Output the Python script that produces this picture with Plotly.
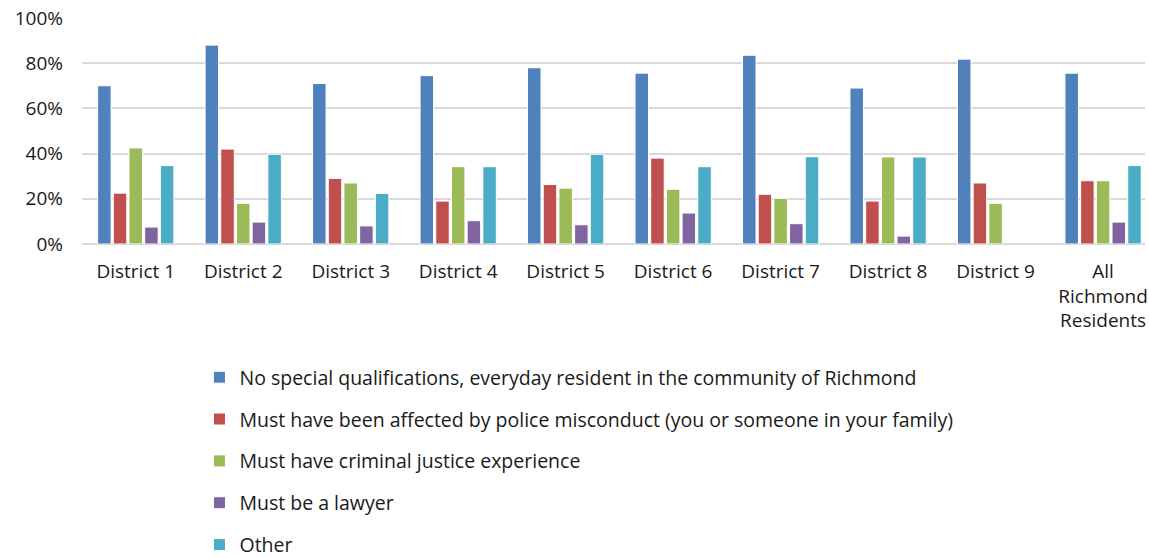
import plotly.graph_objects as go

categories = ["District 1", "District 2", "District 3", "District 4", "District 5",
              "District 6", "District 7", "District 8", "District 9",
              "All<br>Richmond<br>Residents"]

series_names = [
    "No special qualifications, everyday resident in the community of Richmond",
    "Must have been affected by police misconduct (you or someone in your family)",
    "Must have criminal justice experience",
    "Must be a lawyer",
    "Other",
]

no_special = [0.70, 0.88, 0.71, 0.745, 0.78, 0.756, 0.835, 0.69, 0.818, 0.756]
police_misconduct = [0.225, 0.42, 0.29, 0.19, 0.263, 0.38, 0.22, 0.19, 0.27, 0.28]
criminal_justice = [0.425, 0.18, 0.27, 0.342, 0.247, 0.242, 0.202, 0.385, 0.18, 0.28]
lawyer = [0.075, 0.097, 0.08, 0.103, 0.085, 0.137, 0.09, 0.035, None, 0.097]
other = [0.347, 0.397, 0.224, 0.342, 0.397, 0.342, 0.386, 0.385, None, 0.347]

colors = ["#4F81BD", "#C0504D", "#9BBB59", "#8064A2", "#4BACC6"]
values = [no_special, police_misconduct, criminal_justice, lawyer, other]

FONT = "Open Sans"
TXT = "#1a1a1a"
FS = 19.5
TICK_FS = 19

fig = go.Figure()
for i, (name, vals, col) in enumerate(zip(series_names, values, colors)):
    fig.add_trace(go.Bar(
        x=categories, y=vals, name=name,
        marker=dict(color=col, line=dict(color="white", width=1)),
        legendgroup=str(i),
    ))

fig.update_layout(
    width=1149, height=558,
    margin=dict(l=82, r=4, t=18, b=314, autoexpand=False),
    paper_bgcolor="white", plot_bgcolor="white",
    barmode="group", bargap=0.27, bargroupgap=0.14,
    font=dict(family=FONT, size=FS, color=TXT),
    showlegend=True,
    legend=dict(
        orientation="v", x=0.1105, xanchor="left",
        yref="container", y=0.3584, yanchor="top",
        traceorder="grouped", tracegroupgap=13.5,
        font=dict(family=FONT, size=FS, color=TXT),
        bgcolor="rgba(0,0,0,0)",
    ),
)
fig.update_xaxes(
    type="category", range=[-0.5, 9.39], automargin=False,
    showgrid=False, showline=False, zeroline=False, ticks="",
    ticklabelstandoff=14,
    tickfont=dict(family=FONT, size=TICK_FS, color=TXT),
)
fig.update_yaxes(
    range=[0, 1], tickvals=[0, 0.2, 0.4, 0.6, 0.8, 1.0], tickformat=".0%",
    automargin=False, ticklabeloverflow="allow",
    showgrid=True, gridcolor="#d9d9d9", gridwidth=2,
    zeroline=True, zerolinecolor="#d9d9d9", zerolinewidth=2,
    showline=False, ticks="", ticklabelstandoff=18,
    tickfont=dict(family=FONT, size=TICK_FS, color=TXT),
)

fig.write_html(
    "out.html",
    config={"displayModeBar": False},
    post_script="document.body.style.margin='0';document.body.style.overflow='hidden';",
)
